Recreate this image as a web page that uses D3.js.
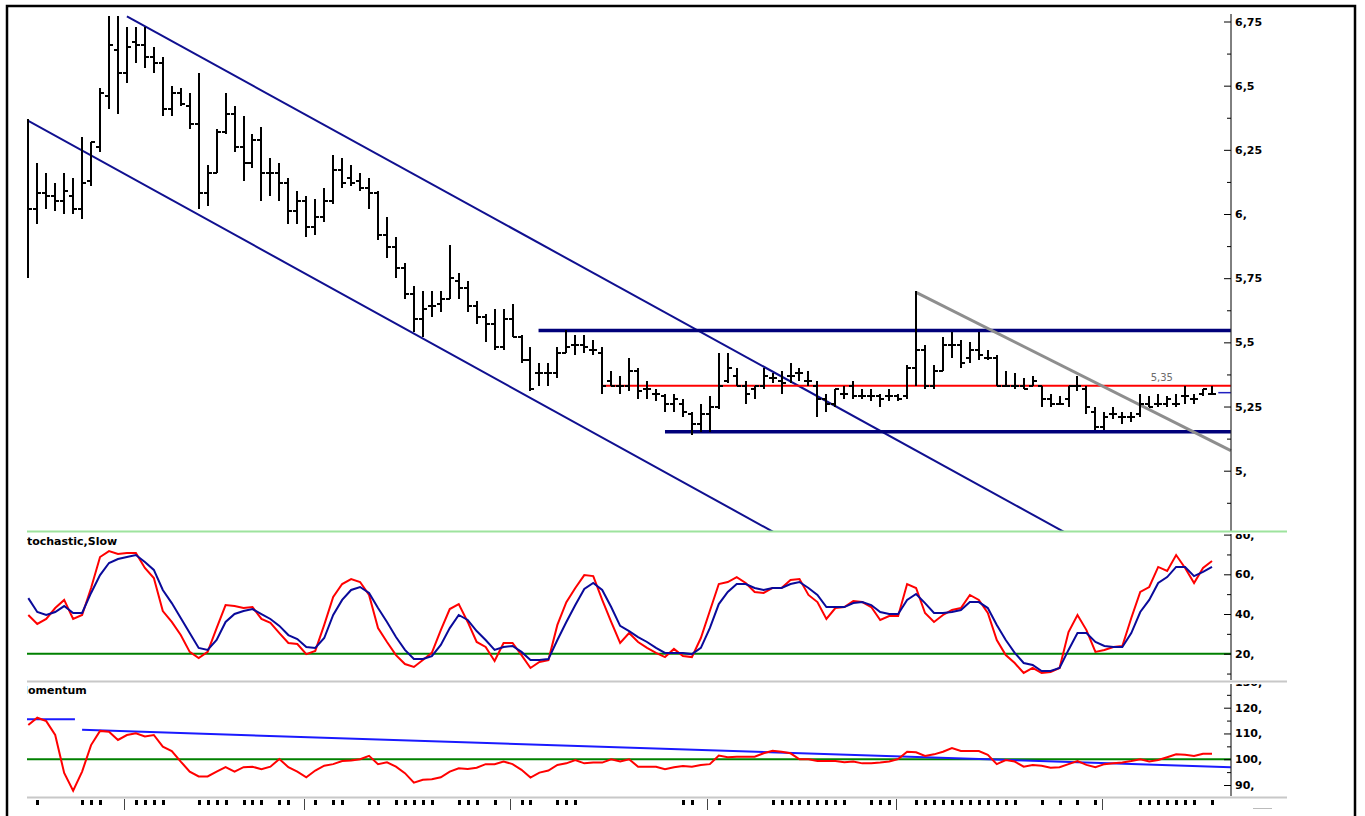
<!DOCTYPE html>
<html><head><meta charset="utf-8">
<script src="https://cdn.jsdelivr.net/npm/d3@7"></script>
<style>
html,body{margin:0;padding:0;background:#fff;}
svg{display:block;}
text{font-family:"DejaVu Sans",Verdana,sans-serif;}
</style></head><body>
<div id="chart"></div>
<script>
// price bars, one entry per session
const OPEN = [5.83,6.02,6.08,6.07,6.05,6.07,6.02,6.13,6.26,6.46, 6.64,6.55,6.67,6.66,6.61,6.59,6.41,6.47,6.42,6.35,
  6.08,6.16,6.32,6.39,6.26,6.20,6.29,6.16,6.16,6.12, 6.01,6.05,5.95,5.99,6.05,6.17,6.14,6.13,6.10,6.08,
  5.92,5.87,5.79,5.69,5.59,5.64,5.65,5.67,5.74,5.71, 5.64,5.60,5.57,5.48,5.59,5.52,5.43,5.38,5.38,5.38,
  5.46,5.49,5.49,5.47,5.46,5.35,5.33,5.33,5.39,5.32, 5.30,5.29,5.26,5.26,5.22,5.18,5.22,5.25,5.35,5.37,
  5.33,5.32,5.33,5.36,5.35,5.37,5.38,5.35,5.33,5.28, 5.26,5.30,5.33,5.29,5.29,5.29,5.29,5.29,5.29,5.40,
  5.47,5.33,5.39,5.49,5.49,5.44,5.47,5.44,5.44,5.33, 5.33,5.33,5.33,5.33,5.28,5.26,5.28,5.33,5.32,5.23,
  5.17,5.22,5.21,5.21,5.22,5.26,5.26,5.26,5.26,5.29, 5.28,5.30,5.30];
const HIGH = [6.37,6.20,6.16,6.12,6.16,6.14,6.30,6.28,6.49,6.77, 6.77,6.73,6.73,6.73,6.65,6.61,6.50,6.49,6.47,6.55,
  6.19,6.33,6.47,6.42,6.38,6.31,6.34,6.22,6.20,6.14, 6.09,6.07,6.06,6.10,6.23,6.22,6.19,6.16,6.14,6.09,
  5.99,5.91,5.81,5.72,5.70,5.70,5.70,5.88,5.77,5.74, 5.66,5.61,5.63,5.63,5.65,5.53,5.48,5.42,5.42,5.48,
  5.55,5.53,5.53,5.51,5.48,5.39,5.37,5.44,5.40,5.35, 5.32,5.30,5.30,5.28,5.23,5.26,5.29,5.46,5.46,5.40,
  5.35,5.33,5.40,5.38,5.39,5.42,5.40,5.39,5.35,5.30, 5.32,5.33,5.35,5.32,5.32,5.30,5.32,5.30,5.41,5.70,
  5.49,5.41,5.52,5.54,5.51,5.50,5.54,5.47,5.45,5.39, 5.38,5.36,5.37,5.33,5.30,5.29,5.33,5.37,5.33,5.25,
  5.23,5.25,5.23,5.23,5.30,5.29,5.30,5.29,5.30,5.33, 5.30,5.32,5.33];
const LOW = [5.75,5.96,6.02,6.01,6.00,6.00,5.98,6.11,6.24,6.41, 6.39,6.51,6.59,6.57,6.55,6.38,6.38,6.42,6.33,6.02,
  6.03,6.16,6.31,6.24,6.13,6.18,6.05,6.07,6.05,5.96, 5.96,5.91,5.92,5.97,6.04,6.10,6.11,6.09,6.02,5.90,
  5.83,5.75,5.67,5.54,5.52,5.60,5.62,5.67,5.67,5.62, 5.57,5.50,5.47,5.47,5.52,5.42,5.31,5.33,5.33,5.36,
  5.46,5.45,5.46,5.45,5.30,5.33,5.30,5.31,5.28,5.28, 5.27,5.23,5.23,5.21,5.14,5.15,5.15,5.24,5.34,5.33,
  5.26,5.28,5.32,5.34,5.30,5.34,5.35,5.33,5.21,5.23, 5.25,5.28,5.28,5.28,5.27,5.25,5.27,5.27,5.28,5.33,
  5.32,5.32,5.39,5.44,5.40,5.42,5.43,5.43,5.33,5.33, 5.32,5.32,5.33,5.25,5.25,5.26,5.25,5.31,5.22,5.16,
  5.16,5.20,5.18,5.19,5.21,5.25,5.25,5.25,5.25,5.26, 5.26,5.29,5.30];
const CLOSE = [6.02,6.08,6.07,6.05,6.09,6.02,6.12,6.28,6.47,6.66, 6.55,6.65,6.66,6.61,6.59,6.41,6.47,6.43,6.35,6.08,
  6.16,6.32,6.39,6.26,6.20,6.29,6.16,6.16,6.12,6.01, 6.05,5.95,5.99,6.05,6.17,6.12,6.12,6.10,6.08,5.92,
  5.87,5.79,5.69,5.59,5.63,5.64,5.67,5.75,5.71,5.64, 5.60,5.57,5.48,5.59,5.52,5.43,5.32,5.38,5.38,5.46,
  5.48,5.49,5.48,5.47,5.33,5.33,5.33,5.39,5.31,5.32, 5.30,5.26,5.28,5.23,5.18,5.22,5.25,5.33,5.40,5.33,
  5.30,5.33,5.37,5.36,5.34,5.37,5.38,5.35,5.28,5.26, 5.32,5.30,5.29,5.29,5.29,5.28,5.29,5.28,5.40,5.47,
  5.33,5.39,5.49,5.49,5.42,5.47,5.45,5.44,5.33,5.33, 5.33,5.32,5.35,5.28,5.26,5.26,5.33,5.33,5.25,5.17,
  5.21,5.22,5.21,5.21,5.26,5.25,5.26,5.28,5.26,5.29, 5.28,5.32,5.30];

// stochastic slow %K (red) and %D (blue)
const STOCH_K = [39.5,35.0,37.5,43.0,47.1,37.5,39.5,53.1,68.7,71.7, 70.2,70.7,70.7,63.2,58.1,41.5,36.0,29.4,20.9,17.8,
  20.9,32.9,44.5,44.0,43.0,43.5,37.5,35.5,30.4,25.4, 24.9,19.8,21.4,34.5,48.6,55.1,57.6,56.1,49.6,32.9,
  25.9,19.3,14.8,13.3,16.8,20.4,31.9,42.5,45.0,36.0, 25.9,23.4,16.3,25.4,25.4,19.3,12.8,15.8,16.8,34.5,
  46.0,53.1,59.6,59.1,47.1,36.0,25.4,30.4,25.9,22.9, 20.4,18.3,22.4,18.8,18.3,27.9,41.5,55.1,56.1,58.6,
  55.6,51.1,50.6,53.1,53.1,57.1,57.6,49.6,46.0,37.5, 43.0,43.5,46.5,46.0,43.5,37.0,39.0,39.0,55.1,53.1,
  40.5,36.0,39.5,42.0,43.0,49.6,47.1,40.5,26.9,19.3, 15.3,10.3,12.8,10.3,10.8,12.8,30.9,39.5,31.9,20.9,
  21.9,23.4,23.9,38.0,51.1,53.6,63.7,61.7,69.7,63.2, 55.6,63.2,66.7];
const STOCH_D = [48.0,41.0,39.5,41.0,44.0,40.5,40.5,50.6,59.6,65.7, 67.7,68.7,69.7,66.2,62.2,52.1,45.5,38.0,30.4,22.9,
  21.9,26.9,36.0,40.0,41.5,42.5,40.0,37.5,34.0,29.4, 27.4,23.4,22.9,27.9,39.5,47.1,52.1,53.6,50.6,43.0,
  36.0,28.4,21.9,17.3,17.3,18.8,24.4,32.9,39.5,37.0, 31.4,26.9,21.9,23.4,23.9,20.9,16.8,16.8,17.3,26.9,
  36.0,44.5,52.6,55.6,52.1,43.5,34.0,31.4,28.4,25.9, 22.9,20.4,20.4,20.4,19.8,22.9,32.9,45.0,51.1,55.1,
  55.1,53.1,52.1,53.1,53.1,55.1,56.1,53.1,49.6,43.5, 43.5,43.5,45.5,46.0,44.5,41.0,40.0,40.0,47.1,50.1,
  45.5,40.5,40.5,41.0,42.0,46.0,46.0,43.0,34.5,26.9, 20.4,15.3,14.3,11.3,11.3,12.8,21.9,30.4,30.4,25.9,
  23.9,23.4,23.4,30.4,41.0,47.1,55.6,58.6,63.7,63.7, 59.1,61.2,63.7];

// momentum (red) and its trend (blue)
const MOMENTUM = [113.3,116.1,114.8,109.4,94.7,87.8,95.2,105.5,111.0,110.7, 107.5,109.4,110.1,108.8,109.4,104.9,103.2,99.1,95.2,93.3,
  93.3,95.2,96.9,95.2,96.9,97.1,96.1,97.1,100.1,96.9, 95.2,93.0,95.6,97.5,98.1,99.3,99.5,100.0,101.3,98.1,
  98.8,97.1,94.6,90.9,92.0,92.2,93.0,95.2,96.5,96.2, 96.7,98.1,98.1,99.1,98.1,95.9,92.9,94.8,95.6,97.8,
  98.4,99.7,98.4,98.7,98.7,100.0,99.1,100.0,97.1,97.1, 97.1,96.1,96.9,97.4,97.1,97.8,98.1,101.4,100.8,101.0,
  101.0,101.0,102.3,103.3,102.9,102.3,100.0,100.0,99.3,99.3, 99.3,98.8,99.1,98.4,98.4,98.7,99.1,100.1,102.9,102.7,
  101.3,101.9,102.9,104.3,103.2,103.2,103.2,101.7,98.1,99.7, 99.1,97.1,97.8,97.5,96.7,96.9,98.1,99.3,97.8,96.9,
  98.1,98.4,98.7,99.3,100.0,99.1,99.7,100.8,101.9,101.7, 101.3,102.1,102.1];
const MOM_TREND_1 = [[-0.15,115.5],[5.2,115.5]];
const MOM_TREND_2 = [[6,111.4],[134.1,96.9]];

// drawn studies on the price panel: [bar index, price]
const UPPER_CHANNEL = [[11,6.77],[120,4.675]];
const LOWER_CHANNEL = [[-0.15,6.366],[90,4.628]];
const RESISTANCE = [[56.9,5.546],[134.1,5.546]];
const SUPPORT = [[71,5.152],[134.1,5.152]];
const PIVOT = [[64,5.331],[134.1,5.331]];
const GRAY_TREND = [[99,5.695],[134.1,5.078]];
const LAST_MARK = [[132.7,5.304],[134.1,5.304]];
const PIVOT_LABEL = {i:126.4, v:5.35, text:'5,35'};

// axes
const PRICE_TICKS = [5,5.25,5.5,5.75,6,6.25,6.5,6.75];
const PRICE_LABELS = ['5,','5,25','5,5','5,75','6,','6,25','6,5','6,75'];
const PRICE_MINOR = [4.875,5.125,5.375,5.625,5.875,6.125,6.375,6.625];
const STOCH_TICKS = [20,40,60,80];
const STOCH_LABELS = ['20,','40,','60,','80,'];
const STOCH_MINOR = [10,30,50,70];
const MOM_TICKS = [90,100,110,120,130];
const MOM_LABELS = ['90,','100,','110,','120,','130,'];
const MOM_MINOR = [95,105,115,125];
const DAY_TICKS = [1,6,7,8,12,13,14,15,19,20,21,22,24,25,26,28,29,32,34,35,38,39,41,42,43,44,45,48,49,50,52,55,56,59,60,61,
  73,74,77,83,84,85,86,87,88,89,90,91,94,95,96,99,100,101,102,103,104,105,106,107,108,109,110,113,115,117,119,
  124,125,126,127,128,129,130,132];
const MONTH_TICKS = [11,31,54,76,97,120];

(function() {
  const W = 1365, H = 816, L = 27, R = 1287, AX = 1231;
  const svg = d3.select('#chart').append('svg').attr('width',W).attr('height',H);

  const x = d3.scaleLinear().domain([0,132]).range([28.3,1212]);
  const yP = d3.scaleLinear().domain([5,6.75]).range([470.7,21.5]);
  const yS = d3.scaleLinear().domain([20,60]).range([653.7,574.3]);
  const yM = d3.scaleLinear().domain([90,120]).range([785,707.7]);

  const defs = svg.append('defs');
  const clip = (id,x0,y0,x1,y1) => defs.append('clipPath').attr('id',id).append('rect')
    .attr('x',x0).attr('y',y0).attr('width',x1-x0).attr('height',y1-y0);
  clip('cp',L,8,R,531); clip('cs',L,534,R,681); clip('cm',L,684,R,797);

  // frame
  svg.append('rect').attr('x',7).attr('y',6).attr('width',1348).attr('height',830)
    .attr('fill','none').attr('stroke','#000').attr('stroke-width',2.5);

  // ---- price panel
  const gp = svg.append('g').attr('clip-path','url(#cp)');
  const line = (ys) => d3.line().x(d=>x(d[0])).y(d=>ys(d[1]));
  const seg = (g,data,ys,col,w) => g.append('path').datum(data).attr('d',line(ys))
    .attr('fill','none').attr('stroke',col).attr('stroke-width',w);

  seg(gp,UPPER_CHANNEL,yP,'#101090',2);
  seg(gp,LOWER_CHANNEL,yP,'#101090',2);
  seg(gp,RESISTANCE,yP,'#00007a',3.5);
  seg(gp,SUPPORT,yP,'#00007a',3.5);
  seg(gp,PIVOT,yP,'#ff0000',2.2);
  seg(gp,GRAY_TREND,yP,'#8e8e8e',3);
  seg(gp,LAST_MARK,yP,'#2020c0',1.5);

  const idx = d3.range(OPEN.length);
  const bars = gp.append('g').attr('stroke','#000').attr('stroke-width',2).attr('shape-rendering','crispEdges');
  bars.selectAll('.hl').data(idx).join('line').attr('class','hl')
    .attr('x1',i=>x(i)).attr('x2',i=>x(i)).attr('y1',i=>yP(HIGH[i])).attr('y2',i=>yP(LOW[i]));
  bars.selectAll('.op').data(idx).join('line').attr('class','op')
    .attr('x1',i=>x(i)-4).attr('x2',i=>x(i)).attr('y1',i=>yP(OPEN[i])).attr('y2',i=>yP(OPEN[i]));
  bars.selectAll('.cl').data(idx).join('line').attr('class','cl')
    .attr('x1',i=>x(i)).attr('x2',i=>x(i)+4).attr('y1',i=>yP(CLOSE[i])).attr('y2',i=>yP(CLOSE[i]));

  gp.append('text').attr('x',x(PIVOT_LABEL.i)).attr('y',yP(PIVOT_LABEL.v)-0).attr('text-anchor','middle')
    .style('font-size','10px').style('fill','#6c6c6c').text(PIVOT_LABEL.text);

  // axis helper: ticks point left, labels sit right of the line
  const axis = (g,ys,vals,labels,minor,y0,y1) => {
    g.append('line').attr('x1',AX).attr('x2',AX).attr('y1',y0).attr('y2',y1).attr('stroke','#000');
    g.append('g').attr('transform',`translate(${AX},0)`)
      .call(d3.axisRight(ys).tickValues(vals).tickSizeInner(-7).tickSizeOuter(0).tickPadding(4)
        .tickFormat((d,i)=>labels[i]))
      .call(a=>a.select('.domain').remove())
      .call(a=>a.selectAll('text').style('font-family','"DejaVu Sans",Verdana,sans-serif')
        .style('font-size','11px').style('font-weight','bold').attr('fill','#000'));
    g.append('g').attr('transform',`translate(${AX},0)`)
      .call(d3.axisRight(ys).tickValues(minor).tickSizeInner(-4).tickSizeOuter(0).tickFormat(''))
      .call(a=>a.select('.domain').remove());
  };
  axis(gp,yP,PRICE_TICKS,PRICE_LABELS,PRICE_MINOR,14,531);

  // separators
  svg.append('line').attr('x1',L).attr('x2',R).attr('y1',531.5).attr('y2',531.5).attr('stroke','#9ee39e').attr('stroke-width',2);
  svg.append('line').attr('x1',L).attr('x2',R).attr('y1',681.5).attr('y2',681.5).attr('stroke','#c8c8c8').attr('stroke-width',2);
  svg.append('line').attr('x1',L).attr('x2',R).attr('y1',797.5).attr('y2',797.5).attr('stroke','#c8c8c8').attr('stroke-width',2);

  // ---- stochastic panel
  const gs = svg.append('g').attr('clip-path','url(#cs)');
  gs.append('line').attr('x1',L).attr('x2',AX).attr('y1',yS(20)).attr('y2',yS(20)).attr('stroke','#008000').attr('stroke-width',2);
  const ln = (ys,arr) => d3.line().x((d,i)=>x(i)).y(d=>ys(d))(arr);
  gs.append('path').attr('d',ln(yS,STOCH_K)).attr('fill','none').attr('stroke','#ff0000').attr('stroke-width',2);
  gs.append('path').attr('d',ln(yS,STOCH_D)).attr('fill','none').attr('stroke','#0a0a9a').attr('stroke-width',2);
  gs.append('text').attr('x',19).attr('y',545).style('font-size','11px').style('font-weight','bold').text('Stochastic,Slow');
  axis(gs,yS,STOCH_TICKS,STOCH_LABELS,STOCH_MINOR,534,680);

  // ---- momentum panel
  const gm = svg.append('g').attr('clip-path','url(#cm)');
  gm.append('line').attr('x1',L).attr('x2',AX).attr('y1',yM(100)).attr('y2',yM(100)).attr('stroke','#008000').attr('stroke-width',2.2);
  seg(gm,MOM_TREND_1,yM,'#1a1aff',2);
  seg(gm,MOM_TREND_2,yM,'#1a1aff',2);
  gm.append('path').attr('d',ln(yM,MOMENTUM)).attr('fill','none').attr('stroke','#ff0000').attr('stroke-width',2);
  gm.append('text').attr('x',17).attr('y',694).style('font-size','11px').style('font-weight','bold').text('Momentum');
  axis(gm,yM,MOM_TICKS,MOM_LABELS,MOM_MINOR,684,796);

  // ---- date ticks under the last panel
  const gx = svg.append('g').attr('shape-rendering','crispEdges');
  gx.selectAll('.dt').data(DAY_TICKS).join('rect').attr('class','dt')
    .attr('x',d=>x(d)-1).attr('y',800).attr('width',3).attr('height',5).attr('fill','#000');
  gx.selectAll('.mt').data(MONTH_TICKS).join('line').attr('class','mt')
    .attr('x1',d=>x(d)-2).attr('x2',d=>x(d)-2).attr('y1',799).attr('y2',810).attr('stroke','#444');
  gx.append('line').attr('x1',1253).attr('x2',1272).attr('y1',808.5).attr('y2',808.5).attr('stroke','#bbb');
})();
</script>
</body></html>
